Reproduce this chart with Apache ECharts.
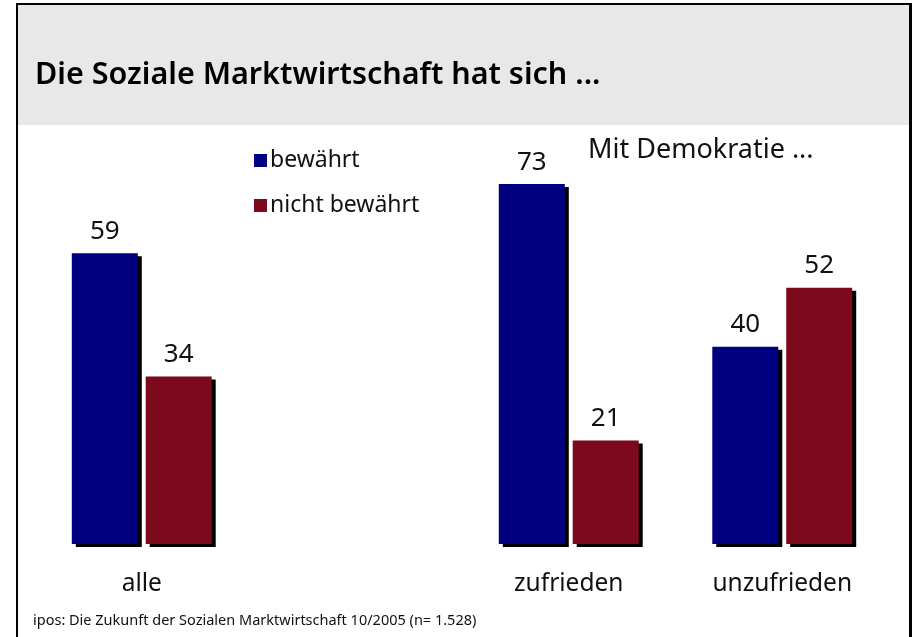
<!DOCTYPE html>
<html>
<head>
<meta charset="utf-8">
<script src="https://cdn.jsdelivr.net/npm/echarts@6/dist/echarts.min.js"></script>
<style>
  html, body { margin: 0; padding: 0; background: #fff; }
  #chart { width: 913px; height: 637px; }
</style>
</head>
<body>
<div id="chart"></div>
<script>
// Daten
var categories = ['alle', '', 'zufrieden', 'unzufrieden']
var bewaehrt = [59, '-', 73, 40]
var nichtBewaehrt = [34, '-', 21, 52]
var seriesNames = ['bewährt', 'nicht bewährt']

var font = 'Noto Sans'
var chart = echarts.init(document.getElementById('chart'))

var barStyle = function (color) {
	return {
		color: color,
		shadowColor: '#000',
		shadowBlur: 0,
		shadowOffsetX: 4,
		shadowOffsetY: 3
	}
}

var labelStyle = {
	show: true,
	position: 'top',
	distance: 9,
	color: '#111',
	fontFamily: font,
	fontSize: 26
}

var option = {
	animation: false,
	backgroundColor: '#fff',
	textStyle: { fontFamily: font },
	graphic: [
		// grauer Titelbereich
		{ type: 'rect', shape: { x: 17, y: 4, width: 893, height: 121 }, style: { fill: '#e8e8e8' }, z: -10 },
		// Rahmen
		{ type: 'rect', shape: { x: 16, y: 3, width: 2, height: 640 }, style: { fill: '#000' } },
		{ type: 'rect', shape: { x: 16, y: 3, width: 896, height: 2 }, style: { fill: '#000' } },
		{ type: 'rect', shape: { x: 909, y: 3, width: 3, height: 640 }, style: { fill: '#000' } },
		{
			type: 'text', left: 35, top: 60,
			style: { text: 'Die Soziale Marktwirtschaft hat sich ...', fill: '#000', font: '600 30.5px "Noto Sans"' }
		},
		{
			type: 'text', left: 588, top: 137,
			style: { text: 'Mit Demokratie ...', fill: '#111', font: '27px "Noto Sans"' }
		},
		{
			type: 'text', left: 33, top: 613,
			style: { text: 'ipos: Die Zukunft der Sozialen Marktwirtschaft 10/2005 (n= 1.528)', fill: '#111', font: '14.5px "Noto Sans"' }
		}
	],
	legend: {
		orient: 'vertical',
		left: 249,
		top: 144,
		icon: 'rect',
		itemWidth: 13,
		itemHeight: 13,
		itemGap: 22,
		textStyle: { fontFamily: font, fontSize: 23, color: '#111', padding: [0, 0, 0, -2] },
		data: seriesNames
	},
	grid: { left: 35, right: 24, top: 51, bottom: 93 },
	xAxis: {
		type: 'category',
		data: categories,
		axisLine: { show: false },
		axisTick: { show: false },
		axisLabel: { margin: 28, color: '#111', fontFamily: font, fontSize: 24.5 }
	},
	yAxis: {
		type: 'value',
		min: 0,
		max: 100,
		show: false,
		splitLine: { show: false }
	},
	series: [
		{
			name: seriesNames[0],
			type: 'bar',
			data: bewaehrt,
			barWidth: 66,
			barGap: '12%',
			itemStyle: barStyle('#000080'),
			label: labelStyle
		},
		{
			name: seriesNames[1],
			type: 'bar',
			data: nichtBewaehrt,
			barWidth: 66,
			barGap: '12%',
			itemStyle: barStyle('#7d091c'),
			label: labelStyle
		}
	]
}

chart.setOption(option)
</script>
</body>
</html>
